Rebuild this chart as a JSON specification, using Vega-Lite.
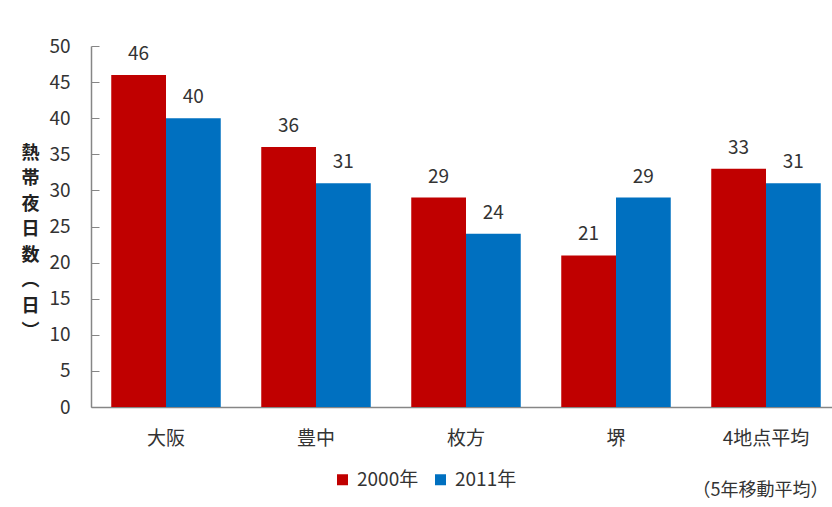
{
  "$schema": "https://vega.github.io/schema/vega-lite/v6.json",
  "autosize": "none",
  "width": 750,
  "height": 361,
  "padding": {"left": 91, "top": 46, "right": 0, "bottom": 100},
  "background": "white",
  "data": {
    "values": [
      {"site": "大阪", "year": "2000年", "days": 46},
      {"site": "大阪", "year": "2011年", "days": 40},
      {"site": "豊中", "year": "2000年", "days": 36},
      {"site": "豊中", "year": "2011年", "days": 31},
      {"site": "枚方", "year": "2000年", "days": 29},
      {"site": "枚方", "year": "2011年", "days": 24},
      {"site": "堺", "year": "2000年", "days": 21},
      {"site": "堺", "year": "2011年", "days": 29},
      {"site": "4地点平均", "year": "2000年", "days": 33},
      {"site": "4地点平均", "year": "2011年", "days": 31}
    ]
  },
  "encoding": {
    "x": {
      "field": "site",
      "type": "nominal",
      "sort": ["大阪", "豊中", "枚方", "堺", "4地点平均"],
      "scale": {"paddingInner": 0.27, "paddingOuter": 0.135},
      "axis": {
        "title": "（5年移動平均）",
        "titleX": 737,
        "titleY": 83,
        "titleAlign": "right",
        "titleBaseline": "middle",
        "titleFontSize": 18,
        "titleFontWeight": "normal",
        "titleColor": "#333333",
        "titleFont": "Noto Sans CJK JP",
        "labelAngle": 0,
        "labelFontSize": 19,
        "labelColor": "#333333",
        "labelFont": "Noto Sans CJK JP",
        "labelPadding": 22,
        "ticks": false,
        "domainColor": "#868686",
        "domainWidth": 1.5
      }
    },
    "xOffset": {"field": "year", "type": "nominal", "scale": {"paddingInner": 0}},
    "y": {
      "field": "days",
      "type": "quantitative",
      "scale": {"domain": [0, 50], "nice": false},
      "axis": {
        "values": [0, 5, 10, 15, 20, 25, 30, 35, 40, 45, 50],
        "grid": false,
        "title": ["熱", "帯", "夜", "日", "数", "︵", "日", "︶"],
        "titleAngle": 0,
        "titleX": -61,
        "titleY": 107,
        "titleAlign": "center",
        "titleBaseline": "middle",
        "titleLineHeight": 25.5,
        "titleFontSize": 18,
        "titleFontWeight": "bold",
        "titleColor": "#222222",
        "titleFont": "Noto Sans CJK JP",
        "labelFontSize": 19,
        "labelColor": "#333333",
        "labelFont": "Noto Sans CJK JP",
        "tickSize": -8,
        "tickColor": "#868686",
        "domainColor": "#868686",
        "domainWidth": 1.5,
        "labelPadding": 29
      }
    },
    "color": {
      "field": "year",
      "type": "nominal",
      "scale": {"domain": ["2000年", "2011年"], "range": ["#C00000", "#0070C0"]},
      "legend": {
        "title": null,
        "orient": "none",
        "direction": "horizontal",
        "legendX": 242,
        "legendY": 424,
        "symbolType": "square",
        "symbolSize": 121,
        "symbolStrokeWidth": 0,
        "labelFontSize": 19,
        "labelColor": "#333333",
        "labelFont": "Noto Sans CJK JP",
        "labelOffset": 5,
        "columnPadding": 12
      }
    }
  },
  "layer": [
    {"mark": {"type": "bar"}},
    {
      "mark": {"type": "text", "baseline": "alphabetic", "dy": -15, "fontSize": 19, "font": "Noto Sans CJK JP", "color": "#333333"},
      "encoding": {"text": {"field": "days", "type": "quantitative"}, "color": {"value": "#333333"}}
    }
  ],
  "config": {"view": {"stroke": null}}
}
